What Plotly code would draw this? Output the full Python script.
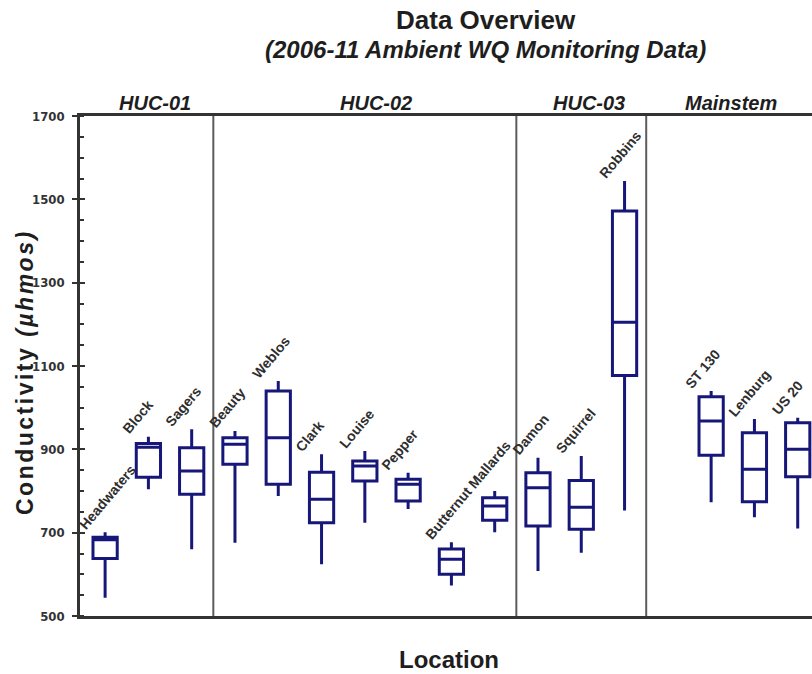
import plotly.graph_objects as go

# Sampling sites, grouped by hydrologic unit
sites = ["Headwaters", "Block", "Sagers",
         "Beauty", "Weblos", "Clark", "Louise", "Pepper", "Butternut", "Mallards",
         "Damon", "Squirrel", "Robbins",
         "ST 130", "Lenburg", "US 20"]
site_group = ["HUC-01"] * 3 + ["HUC-02"] * 7 + ["HUC-03"] * 3 + ["Mainstem"] * 3
groups = ["HUC-01", "HUC-02", "HUC-03", "Mainstem"]

# Conductivity summary statistics (µhmos)
cond_min = [544, 804, 660, 676, 788, 624, 724, 757, 573, 701, 608, 652, 753, 773, 737, 710]
cond_q1 = [638, 833, 792, 864, 816, 724, 824, 776, 600, 730, 716, 708, 1077, 886, 774, 834]
cond_median = [683, 905, 848, 912, 928, 780, 860, 816, 636, 764, 808, 761, 1205, 968, 852, 900]
cond_q3 = [689, 914, 904, 928, 1040, 845, 872, 828, 661, 784, 844, 825, 1472, 1026, 940, 964]
cond_max = [701, 930, 948, 944, 1064, 888, 896, 844, 677, 800, 880, 884, 1544, 1040, 973, 976]

y_ticks = [500, 700, 900, 1100, 1300, 1500, 1700]

# slot layout: one slot per site, with a blank slot opening the Mainstem group
blank_before = {"Mainstem": 1}
xpos = []
slot = 0
prev = None
for g in site_group:
    if g != prev:
        slot += blank_before.get(g, 0)
        prev = g
    slot += 1
    xpos.append(slot)

# group boundaries and header centres
bounds = []
for i in range(1, len(site_group)):
    if site_group[i] != site_group[i - 1]:
        bounds.append(xpos[i] - 0.5 - blank_before.get(site_group[i], 0))
header_x = {"HUC-01": 2.15, "HUC-02": 7.26, "HUC-03": 12.18, "Mainstem": 15.46}

BOX_COLOR = "#17177a"
FRAME = "#333333"
FONT = "Arial, Liberation Sans, sans-serif"

fig = go.Figure()
fig.add_trace(go.Box(
    x=xpos, q1=cond_q1, median=cond_median, q3=cond_q3,
    lowerfence=cond_min, upperfence=cond_max,
    width=0.56, whiskerwidth=0,
    line=dict(color=BOX_COLOR, width=3),
    fillcolor="rgba(0,0,0,0)",
    boxpoints=False, showlegend=False, hoverinfo="skip",
))

# y-axis companion that draws the inner half of the major ticks
fig.add_trace(go.Scatter(x=[None], y=[None], yaxis="y2", showlegend=False))

annotations = []
for name, x, top in zip(sites, xpos, cond_max):
    annotations.append(dict(
        x=x, y=top, xref="x", yref="y", text=f"<b>{name}</b>",
        textangle=-50, xanchor="left", yanchor="bottom",
        xshift=-32, yshift=-3, showarrow=False,
        font=dict(family=FONT, size=14, color="#2e2e2e"),
    ))
for g in groups:
    annotations.append(dict(
        x=header_x[g], y=1, xref="x", yref="paper", text=f"<b><i>{g}</i></b>",
        xanchor="center", yanchor="middle", yshift=13, showarrow=False,
        font=dict(family=FONT, size=20, color="#1e1e1e"),
    ))
annotations += [
    dict(x=0.5546, y=1, xref="paper", yref="paper", yshift=96,
         text="<b>Data Overview</b>", showarrow=False,
         xanchor="center", yanchor="middle",
         font=dict(family=FONT, size=26, color="#1e1e1e")),
    dict(x=0.5533, y=1, xref="paper", yref="paper", yshift=67,
         text="<b><i>(2006-11 Ambient WQ Monitoring Data)</i></b>", showarrow=False,
         xanchor="center", yanchor="middle",
         font=dict(family=FONT, size=24, color="#1e1e1e")),
    dict(x=0.504, y=0, xref="paper", yref="paper", yshift=-43,
         text="<b>Location</b>", showarrow=False,
         xanchor="center", yanchor="middle",
         font=dict(family=FONT, size=24, color="#1e1e1e")),
    dict(x=0, y=0.5, xref="paper", yref="paper", xshift=-55, yshift=-6,
         text="<b><span style='letter-spacing:2.5px'>Conductivity </span>"
              "<span style='letter-spacing:2.5px;font-style:italic'>(µhmos)</span></b>",
         textangle=-90, showarrow=False, xanchor="center", yanchor="middle",
         font=dict(family=FONT, size=23, color="#1e1e1e")),
]

shapes = [dict(type="line", xref="x", yref="paper", x0=b, x1=b, y0=0, y1=1,
               line=dict(color="#5c5c5c", width=2)) for b in bounds]

tick_font = dict(family="Liberation Sans Narrow, DejaVu Sans Condensed, Arial Narrow, sans-serif",
                 size=13, color="#333333", weight="bold")

fig.update_layout(
    width=812, height=674,
    margin=dict(l=80, r=0, t=116, b=58),
    paper_bgcolor="white", plot_bgcolor="white",
    xaxis=dict(range=[0.42, 17.33], showgrid=False, zeroline=False,
               showticklabels=False, ticks="", showline=True, mirror=True,
               linecolor=FRAME, linewidth=3),
    yaxis=dict(range=[500, 1700], tickvals=y_ticks, ticktext=[str(v) for v in y_ticks],
               showgrid=False, zeroline=False, showline=True, linecolor=FRAME,
               linewidth=2.5, ticks="outside", ticklen=5, tickwidth=2, tickcolor=FRAME,
               ticklabelstandoff=5, tickfont=tick_font,
               minor=dict(dtick=50, ticks="inside", ticklen=4, tickwidth=1.5,
                          tickcolor=FRAME, showgrid=False)),
    yaxis2=dict(range=[500, 1700], overlaying="y", side="left", tickvals=y_ticks,
                showticklabels=False, showgrid=False, zeroline=False, showline=False,
                ticks="inside", ticklen=5, tickwidth=2, tickcolor=FRAME),
    annotations=annotations,
    shapes=shapes,
)

fig.write_html("out.html")
